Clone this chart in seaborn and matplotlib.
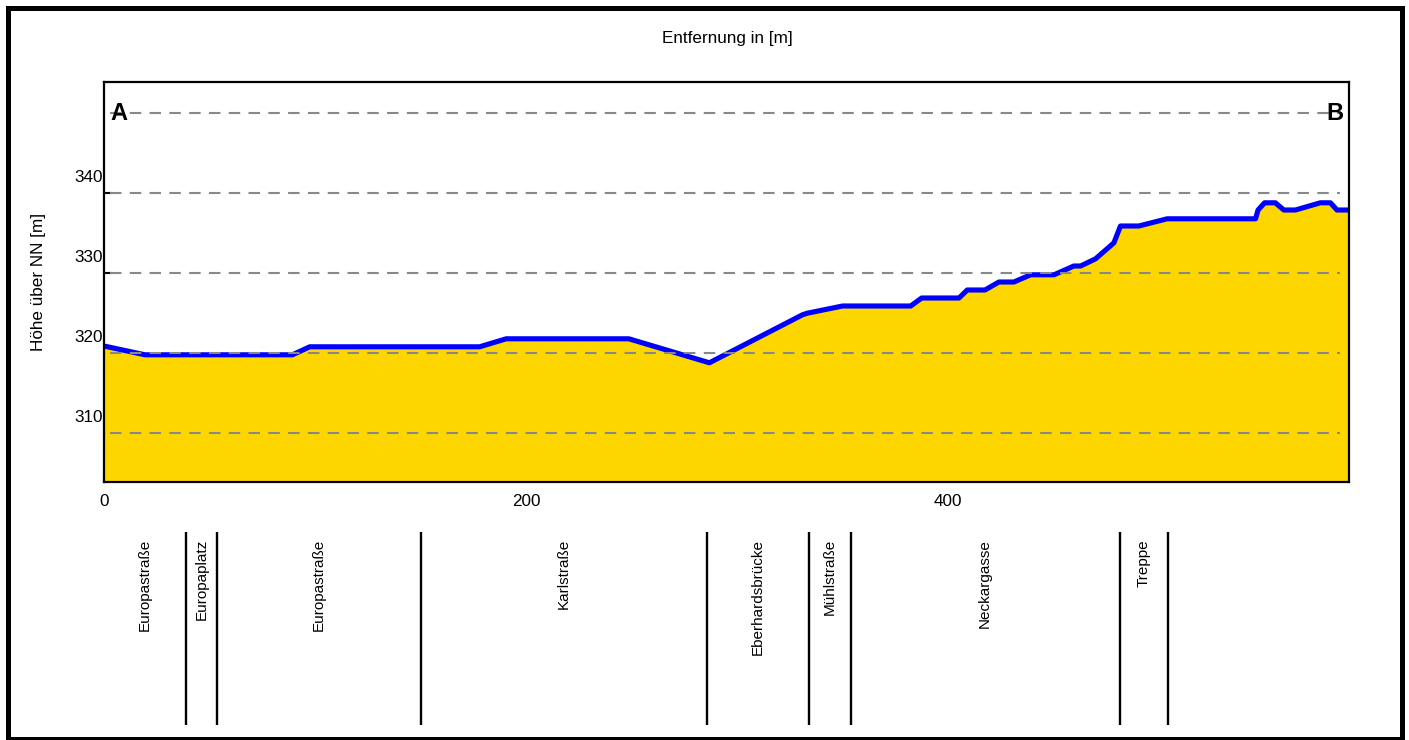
import matplotlib
matplotlib.use("Agg")
import matplotlib.pyplot as plt
import seaborn as sns
import pandas as pd
from matplotlib import transforms, patches, font_manager

# ---------------- data ----------------
dist = [0, 19.4, 89.3, 97.5, 178.0, 190.6, 248.7, 286.9, 331.0, 333.3,
        350.0, 382.3, 387.5, 405.2, 409.1, 417.5, 424.1, 431.2, 439.1, 450.2,
        459.6, 462.8, 469.9, 478.6, 481.7, 490.4, 503.8, 545.7, 546.9, 550.0,
        555.1, 559.1, 564.6, 576.4, 581.2, 584.3, 590.0]
elev = [320.9, 319.8, 319.8, 320.8, 320.8, 321.8, 321.8, 318.8, 324.8, 325.0,
        325.9, 325.9, 326.9, 326.9, 327.9, 327.9, 328.9, 328.9, 329.8, 329.8,
        330.9, 330.9, 331.8, 333.8, 335.9, 335.9, 336.8, 336.8, 337.9, 338.8,
        338.8, 337.9, 337.9, 338.8, 338.8, 337.9, 337.9]

x_ticks = [0, 200, 400]
y_ticks = [310, 320, 330, 340]
grid_levels = [310, 320, 330, 340, 350]

street_bounds = [0, 38.8, 53.6, 150.2, 285.9, 334.0, 353.8, 481.3, 504.3, 590.0]
street_names = ["Europastraße", "Europaplatz", "Europastraße", "Karlstraße",
                "Eberhardsbrücke", "Mühlstraße", "Neckargasse", "Treppe", ""]

title = "Entfernung in [m]"
ylabel = "Höhe über NN [m]"
start_label, end_label = "A", "B"

# ---------------- style ----------------
sns.set_theme(style="white")


def pick_font(cands):
    for f in cands:
        try:
            font_manager.findfont(font_manager.FontProperties(family=f),
                                  fallback_to_default=False)
            return f
        except Exception:
            pass
    return "DejaVu Sans"


FONT = pick_font(["Liberation Sans Narrow", "Arial Narrow", "Liberation Sans"])
plt.rcParams["font.family"] = [FONT, "DejaVu Sans"]
FS = 12.3
FS_STREET = 11

W, H = 1409, 740
fig = plt.figure(figsize=(W / 100, H / 100), dpi=100)
fig.patch.set_facecolor("white")


def fx(px):
    return px / W


def fy(py):
    return 1 - py / H


ax = fig.add_axes([fx(104), fy(482), fx(1349) - fx(104), fy(82) - fy(482)])
YMIN, YMAX = 303.9, 353.9
ax.set_xlim(0, 590)
ax.set_ylim(YMIN, YMAX)

df = pd.DataFrame({"dist": dist, "elev": elev})
ax.fill_between(df["dist"], df["elev"], YMIN, color="#FDD600", lw=0, zorder=1)
sns.lineplot(data=df, x="dist", y="elev", color="#0000FF", lw=3.7,
             estimator=None, sort=False, ax=ax, zorder=3)

for g in grid_levels:
    ax.axhline(g, xmin=6 / 1245, xmax=1 - 9 / 1245, color="#888888", lw=1.5,
               ls=(0, (5.5, 4)), zorder=4)

ax.set_xlabel("")
ax.set_ylabel("")
for s in ax.spines.values():
    s.set_color("black")
    s.set_linewidth(1.6)
    s.set_zorder(5)

ax.set_xticks(x_ticks)
ax.set_xticklabels([str(v) for v in x_ticks])
ax.tick_params(axis="x", bottom=True, direction="in", length=6, width=1.5,
               pad=9, labelsize=FS, colors="black")
ax.set_yticks(y_ticks)
ax.tick_params(axis="y", left=True, direction="in", length=6, width=1.5,
               labelleft=False, colors="black")

ytrans = transforms.blended_transform_factory(ax.transAxes, ax.transData) + \
    transforms.ScaledTranslation(-1 / 100, 16 / 100, fig.dpi_scale_trans)
for v in y_ticks:
    ax.text(0, v, str(v), transform=ytrans, ha="right", va="center",
            fontsize=FS, color="black", clip_on=False)

# A / B markers
atrans = transforms.blended_transform_factory(ax.transAxes, ax.transData)
ax.text(6 / 1245, grid_levels[-1], start_label, transform=atrans, ha="left",
        va="center", fontsize=17, fontweight="bold", color="black", zorder=6)
ax.text(1 - 6 / 1245, grid_levels[-1], end_label, transform=atrans, ha="right",
        va="center", fontsize=17, fontweight="bold", color="black", zorder=6)

# title and y label
fig.text(fx(727), fy(38), title, ha="center", va="center", fontsize=FS,
         color="black")
fig.text(fx(39), fy(282), ylabel, ha="center", va="center", rotation=90,
         fontsize=FS, color="black")

# street band
ax2 = fig.add_axes([fx(104), fy(725), fx(1349) - fx(104), fy(531.7) - fy(725)])
ax2.set_xlim(0, 590)
ax2.set_ylim(0, 1)
ax2.axis("off")
ax2.vlines(street_bounds[1:-1], 0, 1, color="black", lw=1.7)
label_top = (725 - 539) / (725 - 531.7)
for a, b, name in zip(street_bounds[:-1], street_bounds[1:], street_names):
    if name:
        ax2.text((a + b) / 2, label_top, name, rotation=90, ha="center",
                 va="top", fontsize=FS_STREET, color="black")

# outer frame
fig.add_artist(patches.Rectangle((fx(8), fy(739)), fx(1402) - fx(8),
                                 fy(7.5) - fy(739), transform=fig.transFigure,
                                 fill=False, ec="black", lw=3.6))

fig.savefig("out.png", dpi=100)
